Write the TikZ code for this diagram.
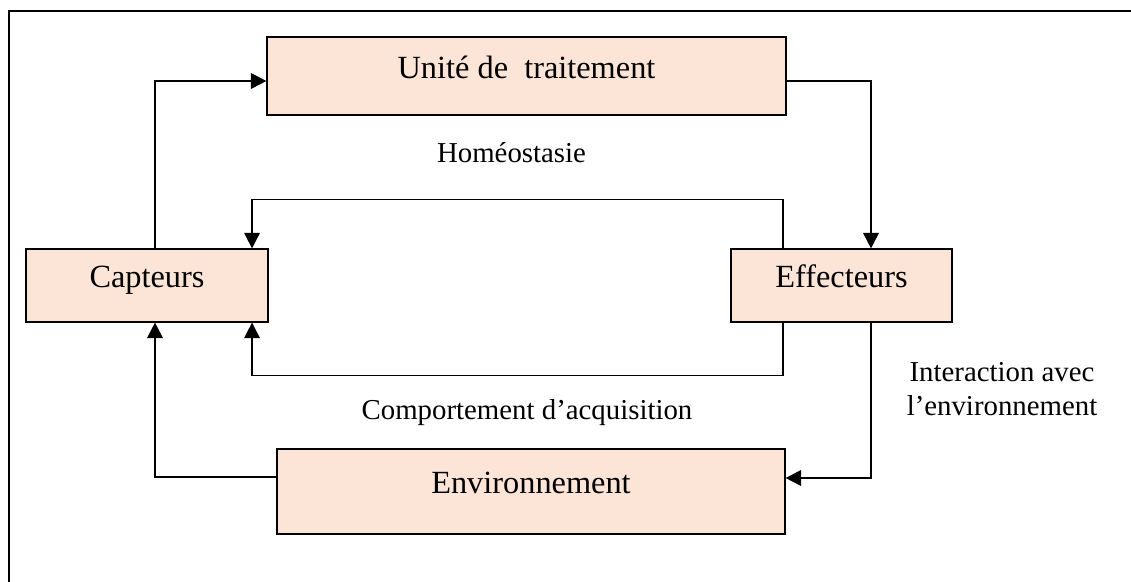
\documentclass[tikz,border=0pt]{standalone}
\usepackage{fontspec}
\setmainfont{Liberation Serif}
\usepackage{xcolor}
\usetikzlibrary{calc,positioning,arrows.meta}

\definecolor{peach}{RGB}{252,228,214}
\tikzset{
	bloc/.style={draw, line width=0.8pt, fill=peach, inner sep=0pt,
		text height=12pt, text depth=9pt,
		font=\fontsize{23}{27}\selectfont},
	fleche/.style={line width=1.3pt, -{Triangle[length=11pt,width=11pt]}},
	lien/.style={line width=1pt},
	legende/.style={font=\fontsize{20.5}{24.6}\selectfont, align=center}
}

\begin{document}
\begin{tikzpicture}[x=0.025cm,y=-0.025cm]
		\useasboundingbox (0,0) rectangle (1131,582);
		\draw[line width=1.4pt] (9,582) coordinate (cadre) -- (9,11) -- (1131,11);

		\node[bloc, minimum width=519*0.025cm, minimum height=78*0.025cm] (unite) at (526.5,76) {Unit\'e de\ \ traitement};
		\node[bloc, minimum width=242*0.025cm, minimum height=73*0.025cm] (capt) at (147,285.5) {Capteurs};
		\node[bloc, minimum width=221*0.025cm, minimum height=73*0.025cm] (effe) at (841.5,285.5) {Effecteurs};
		\node[bloc, minimum width=508*0.025cm, minimum height=85*0.025cm] (env) at (531,491.5) {Environnement};

		\node[legende] (homeo) at (511.5,153) {Hom\'eostasie};
		\node[legende] (compo) at (527,413) {Comportement d'acquisition};
		\node[legende] (inter) at (1002,389) {Interaction avec\\l'environnement};

		% boucle exterieure
		\draw[fleche] ([xshift=0.2cm]capt.north) |- ([yshift=-0.125cm]unite.west);
		\draw[fleche] ([yshift=-0.125cm]unite.east) -| ([xshift=0.7375cm]effe.north);
		\draw[fleche] ([xshift=0.7375cm]effe.south) |- ([yshift=0.3375cm]env.east);
		\draw[fleche] ([yshift=0.3625cm]env.west) -| ([xshift=0.2cm]capt.south);

		% boucles interieures
		\draw[fleche, lien] ([xshift=-1.4625cm]effe.north) -- ++(0,-49) -| ([xshift=2.625cm]capt.north);
		\draw[fleche, lien] ([xshift=-1.4625cm]effe.south) -- ++(0,53) -| ([xshift=2.625cm]capt.south);
	\end{tikzpicture}
\end{document}
